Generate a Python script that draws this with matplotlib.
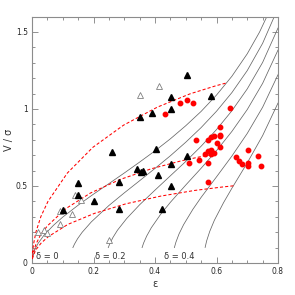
# V/sigma - ellipticity diagram with anisotropy curves and inclination tracks

import matplotlib
matplotlib.use('Agg')
import matplotlib.pyplot as plt
from matplotlib.ticker import MultipleLocator, FixedLocator

# edge-on curves, one per anisotropy delta
curve_eps = {
    0.0: [0.001, 0.010, 0.020, 0.040, 0.070, 0.100, 0.150, 0.200, 0.250, 0.300, 0.350,
          0.400, 0.450, 0.500, 0.550, 0.600, 0.650, 0.700, 0.740, 0.770],
    0.1: [0.133, 0.138, 0.148, 0.163, 0.193, 0.250, 0.300, 0.350, 0.400, 0.450, 0.500,
          0.550, 0.600, 0.650, 0.700, 0.750, 0.800],
    0.2: [0.248, 0.253, 0.263, 0.278, 0.308, 0.350, 0.400, 0.450, 0.500, 0.550, 0.600,
          0.650, 0.700, 0.750, 0.800],
    0.3: [0.358, 0.363, 0.373, 0.388, 0.418, 0.450, 0.500, 0.550, 0.600, 0.650, 0.700,
          0.750, 0.800],
    0.4: [0.463, 0.468, 0.478, 0.493, 0.523, 0.550, 0.600, 0.650, 0.700, 0.750, 0.800],
    0.5: [0.563, 0.568, 0.578, 0.593, 0.623, 0.650, 0.700, 0.750, 0.800],
}
curve_vs = {
    0.0: [0.028, 0.090, 0.128, 0.183, 0.245, 0.298, 0.375, 0.447, 0.515, 0.584, 0.655,
          0.728, 0.806, 0.891, 0.984, 1.090, 1.212, 1.358, 1.499, 1.626],
    0.1: [0.100, 0.122, 0.157, 0.199, 0.267, 0.373, 0.455, 0.534, 0.614, 0.696, 0.784,
          0.879, 0.985, 1.106, 1.249, 1.426, 1.655],
    0.2: [0.100, 0.125, 0.165, 0.213, 0.289, 0.378, 0.473, 0.566, 0.659, 0.758, 0.866,
          0.988, 1.130, 1.302, 1.525],
    0.3: [0.100, 0.130, 0.175, 0.229, 0.315, 0.394, 0.506, 0.615, 0.729, 0.854, 0.996,
          1.166, 1.382],
    0.4: [0.100, 0.135, 0.188, 0.249, 0.348, 0.426, 0.559, 0.694, 0.841, 1.011, 1.222],
    0.5: [0.101, 0.144, 0.205, 0.277, 0.392, 0.485, 0.650, 0.827, 1.038],
}

# inclination tracks (red dashed)
track_eps = [
    [0.001, 0.005, 0.013, 0.029, 0.052, 0.115, 0.198, 0.298, 0.408, 0.514, 0.599, 0.633],
    [0.001, 0.005, 0.013, 0.028, 0.050, 0.110, 0.190, 0.285, 0.387, 0.485, 0.560, 0.590],
    [0.001, 0.005, 0.013, 0.030, 0.053, 0.117, 0.203, 0.305, 0.418, 0.529, 0.618, 0.655],
]
track_vs = [
    [0.061, 0.122, 0.203, 0.302, 0.400, 0.584, 0.751, 0.895, 1.012, 1.098, 1.151, 1.169],
    [0.037, 0.074, 0.123, 0.183, 0.241, 0.353, 0.454, 0.541, 0.611, 0.663, 0.695, 0.706],
    [0.026, 0.052, 0.087, 0.130, 0.171, 0.251, 0.322, 0.384, 0.434, 0.471, 0.493, 0.501],
]

# filled triangles
fast_eps = [0.100, 0.151, 0.151, 0.200, 0.261, 0.282, 0.282, 0.340, 0.353, 0.362, 0.351,
            0.391, 0.403, 0.452, 0.452, 0.503, 0.583, 0.503, 0.452, 0.411, 0.451, 0.422]
fast_vs = [0.344, 0.522, 0.442, 0.400, 0.723, 0.528, 0.352, 0.608, 0.593, 0.597, 0.946,
           0.972, 0.738, 1.076, 1.002, 1.223, 1.082, 0.695, 0.643, 0.573, 0.502, 0.353]

# open triangles
open_eps = [0.351, 0.413, 0.140, 0.159, 0.091, 0.129, 0.091, 0.020, 0.039, 0.050, 0.249]
open_vs = [1.091, 1.149, 0.444, 0.411, 0.335, 0.320, 0.253, 0.203, 0.216, 0.197, 0.147]

# red dots
red_eps = [0.433, 0.481, 0.503, 0.523, 0.643, 0.613, 0.613, 0.613, 0.592, 0.583, 0.533,
           0.573, 0.603, 0.611, 0.582, 0.573, 0.592, 0.582, 0.564, 0.543, 0.512, 0.573,
           0.573, 0.703, 0.663, 0.673, 0.684, 0.703, 0.703, 0.734, 0.744]
red_vs = [0.967, 1.041, 1.057, 1.040, 1.004, 0.885, 0.833, 0.824, 0.825, 0.816, 0.801,
          0.797, 0.777, 0.751, 0.736, 0.726, 0.712, 0.708, 0.708, 0.669, 0.651, 0.651,
          0.529, 0.736, 0.685, 0.663, 0.643, 0.652, 0.632, 0.692, 0.631]

delta_labels = ["δ = 0", "δ = 0.2", "δ = 0.4"]
delta_label_x = [0.012, 0.205, 0.428]

fig = plt.figure(figsize=(2.95, 2.95), dpi=100)
ax = fig.add_axes([32/295., 32/295., 246/295., 246.5/295.])

for d in sorted(curve_eps):
    ax.plot(curve_eps[d], curve_vs[d], '-', color='0.4', lw=0.55, zorder=2)
for e, v in zip(track_eps, track_vs):
    ax.plot(e, v, '--', color='red', lw=0.75, dashes=(3, 2), zorder=3)

ax.plot(open_eps, open_vs, '^', mfc='white', mec='0.5', mew=0.6, ms=4.8, ls='none', zorder=4)
ax.plot(fast_eps, fast_vs, '^', mfc='black', mec='black', ms=4.8, ls='none', zorder=5)
ax.plot(red_eps, red_vs, 'o', mfc='red', mec='red', ms=3.2, ls='none', zorder=5)

for t, x in zip(delta_labels, delta_label_x):
    ax.text(x, 0.045, t, fontsize=6, color='0.2', va='center', ha='left')

ax.set_xlim(0, 0.8)
ax.set_ylim(0, 1.6)
ax.xaxis.set_major_locator(FixedLocator([0, 0.2, 0.4, 0.6, 0.8]))
ax.xaxis.set_minor_locator(MultipleLocator(0.05))
ax.yaxis.set_major_locator(FixedLocator([0, 0.5, 1.0, 1.5]))
ax.yaxis.set_minor_locator(MultipleLocator(0.1))
ax.set_xticklabels(["0", "0.2", "0.4", "0.6", "0.8"])
ax.set_yticklabels(["0", "0.5", "1", "1.5"])
ax.tick_params(which='both', direction='in', top=True, right=True, color='0.5',
               labelsize=5.5, labelcolor='0.15', width=0.6)
ax.tick_params(which='major', length=4, pad=3)
ax.tick_params(which='minor', length=2.5)
for s in ax.spines.values():
    s.set_color('0.55')
    s.set_linewidth(0.8)

ax.set_xlabel("ε", fontsize=7, color='0.2', labelpad=2)
ax.set_ylabel("V / σ", fontsize=7, color='0.2', labelpad=1)

fig.savefig('out.png', dpi=100)
